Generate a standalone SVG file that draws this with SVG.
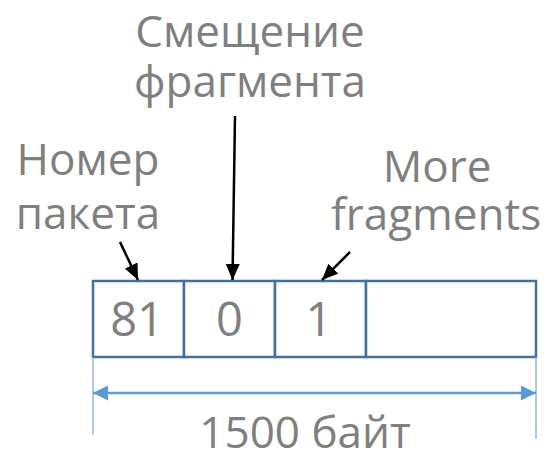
<svg xmlns="http://www.w3.org/2000/svg" width="551" height="456" viewBox="0 0 551 456">
<style>
.lbl{font-family:"Open Sans","Noto Sans","DejaVu Sans",sans-serif;font-size:44px;fill:#7f7f7f;text-anchor:middle}
.num{font-size:47px}
.cell{fill:#fff;stroke:#41719c;stroke-width:2.5}
.ptr{stroke:#000;stroke-width:2.5;fill:none;marker-end:url(#ah)}
.ext{stroke:#8cb8e2;stroke-width:1.5}
.dim{stroke:#5b9bd5;stroke-width:2.5;fill:none;marker-start:url(#dh);marker-end:url(#dh)}
</style>
<defs>
<marker id="ah" viewBox="0 0 16 14" refX="16" refY="7" markerWidth="16" markerHeight="14" markerUnits="userSpaceOnUse" orient="auto"><path d="M0,0 L16,7 L0,14 z" fill="#000"/></marker>
<marker id="dh" viewBox="0 0 15 15" refX="15" refY="7.5" markerWidth="15" markerHeight="15" markerUnits="userSpaceOnUse" orient="auto-start-reverse"><path d="M0,0 L15,7.5 L0,15 z" fill="#5b9bd5"/></marker>
</defs>
<g id="packet">
<rect class="cell" x="93" y="281" width="91" height="76"/>
<rect class="cell" x="184" y="281" width="91" height="76"/>
<rect class="cell" x="275" y="281" width="91" height="76"/>
<rect class="cell" x="366" y="281" width="170" height="76"/>
<text class="lbl num" x="137" y="336">81</text>
<text class="lbl num" x="229.5" y="336">0</text>
<text class="lbl num" x="319" y="336">1</text>
</g>
<g id="label-number">
<text class="lbl" x="88" y="175">Номер</text>
<text class="lbl" x="88" y="229">пакета</text>
</g>
<g id="label-offset">
<text class="lbl" x="250" y="47">Смещение</text>
<text class="lbl" x="250" y="97">фрагмента</text>
</g>
<g id="label-more">
<text class="lbl" x="437" y="182">More</text>
<text class="lbl" x="436" y="230">fragments</text>
</g>
<g id="label-size">
<text class="lbl" x="305" y="448">1500 байт</text>
</g>
<g id="connectors">
<path class="ptr" d="M120,242 L138,280"/>
<path class="ptr" d="M235,116 L232.5,280"/>
<path class="ptr" d="M350,252 L322,280"/>
<line class="ext" x1="93" y1="357" x2="93" y2="435"/>
<line class="ext" x1="536" y1="357" x2="536" y2="439"/>
<path class="dim" d="M93,393 L536,393"/>
</g>
</svg>
